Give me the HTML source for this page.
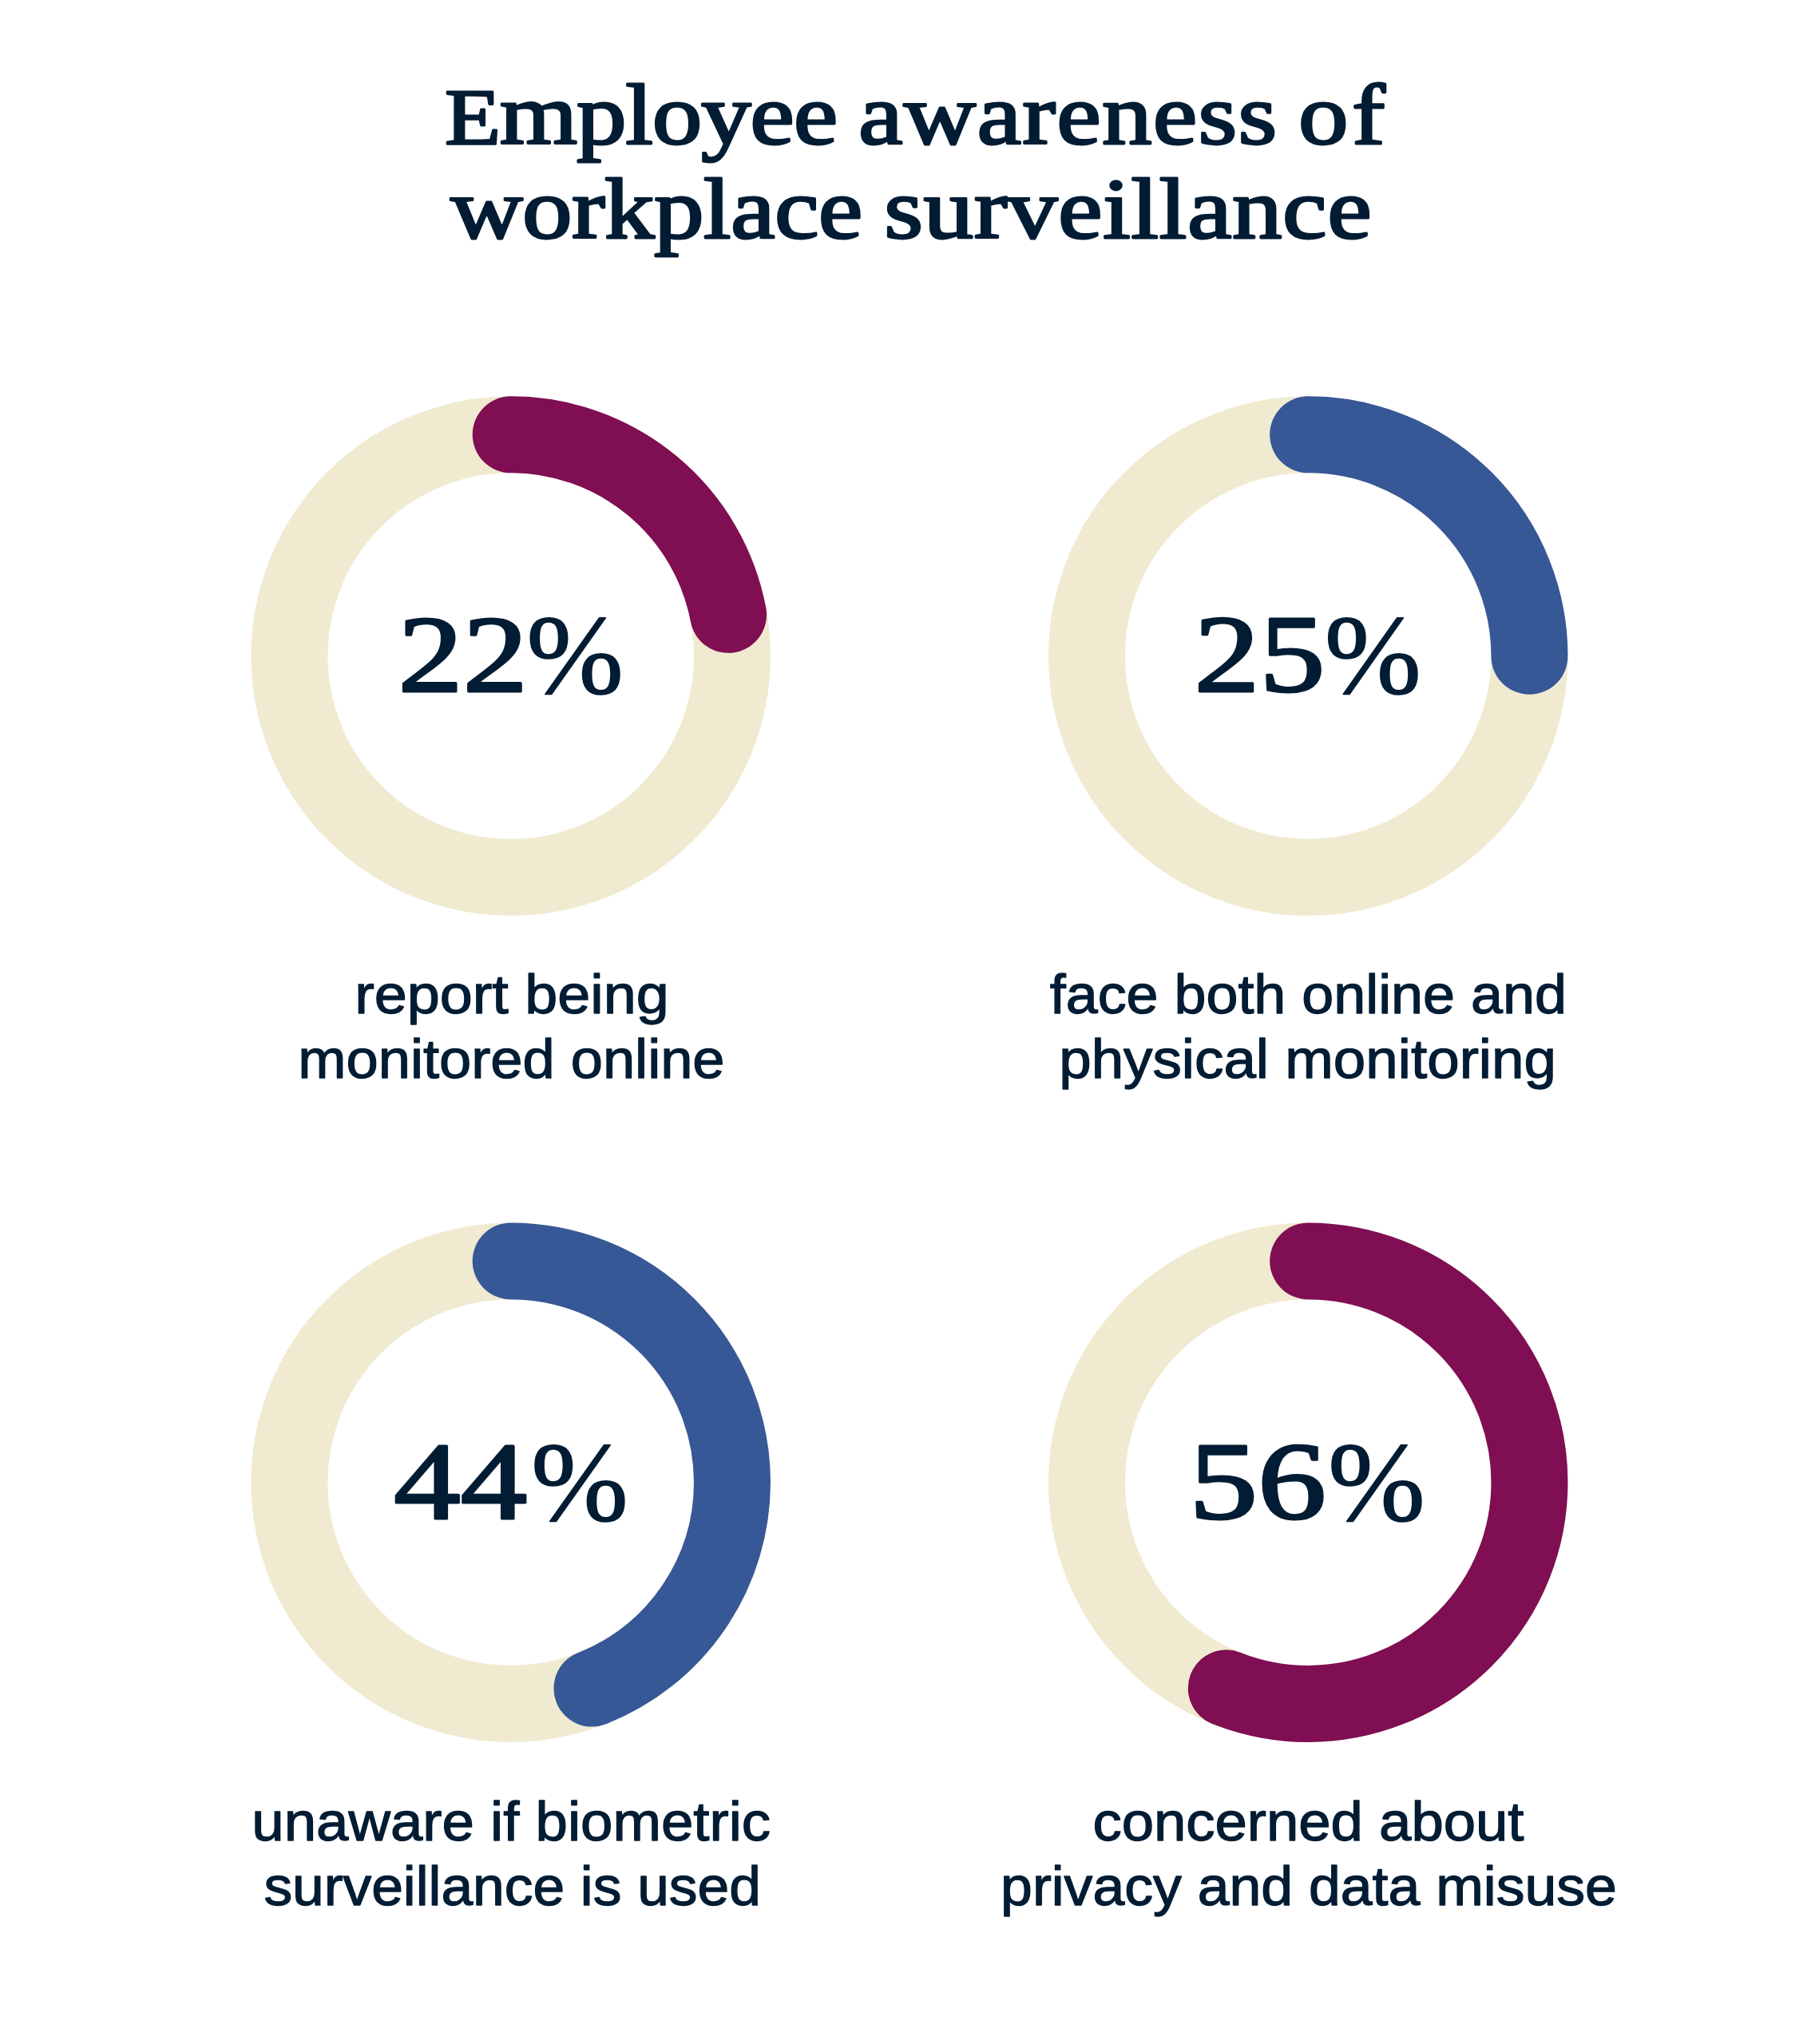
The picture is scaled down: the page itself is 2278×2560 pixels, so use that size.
<!DOCTYPE html>
<html lang="en">
<head>
<meta charset="utf-8">
<title>Employee awareness of workplace surveillance</title>
<style>
  html, body { margin: 0; padding: 0; background: #ffffff; }
  body { width: 2278px; height: 2560px; position: relative; }
  svg { display: block; position: absolute; left: 0; top: 0; }
  text { fill: #011c33; stroke: #011c33; stroke-linejoin: round; text-anchor: middle; }
  .title { font-family: "Liberation Serif", serif; font-weight: 400; font-size: 108px; stroke-width: 2.8px; }
  .num { font-family: "Liberation Serif", serif; font-weight: 400; font-size: 137.5px; stroke-width: 3px; }
  .pct { font-family: "Liberation Serif", serif; font-weight: 400; font-size: 141px; stroke-width: 1.5px; }
  .lbl { font-family: "Liberation Sans", sans-serif; font-weight: 400; font-size: 68.5px; stroke-width: 1.3px; }
  .track { fill: none; stroke: #f0ead0; stroke-width: 96; }
  .arc { fill: none; stroke-width: 96; stroke-linecap: round; }
  .purple { stroke: #7f0e53; }
  .blue { stroke: #375896; }
</style>
</head>
<body>
<svg width="2278" height="2560" viewBox="0 0 2278 2560" role="img" aria-label="Employee awareness of workplace surveillance">
  <!-- Heading -->
  <g class="heading">
    <text class="title" transform="translate(1148.35 180.00) scale(1.1592 1)"><tspan x="-284.88" letter-spacing="-1.1"><tspan font-size="99">E</tspan>mployee</tspan> <tspan x="176.88" letter-spacing="1.05">awareness</tspan> <tspan x="460.94" letter-spacing="4">of</tspan></text>
    <text class="title" transform="translate(1138.95 298.00) scale(1.1603 1)"><tspan x="-259.71" letter-spacing="-0.6">workplace</tspan> <tspan x="236.01" letter-spacing="0.4">surveillance</tspan></text>
  </g>

  <!-- Stat 1: 22% -->
  <g class="stat">
    <g transform="translate(639.7 821.6)">
      <circle class="track" r="277.25"/>
      <circle class="arc purple" r="277.25" transform="rotate(-90)" stroke-dasharray="383.24 1742.01"/>
    </g>
    <g class="value" aria-label="22%">
      <text class="num" transform="translate(579.66 866.10) scale(1.1814 1)">22</text><text class="pct" transform="translate(720.12 868.00) scale(1.0371 1)">%</text>
    </g>
    <g class="caption">
      <text class="lbl" transform="translate(640.96 1268.60) scale(1.0766 1)">report being</text>
      <text class="lbl" transform="translate(640.46 1350.10) scale(1.0550 1)">monitored online</text>
    </g>
  </g>

  <!-- Stat 2: 25% -->
  <g class="stat">
    <g transform="translate(1638.2 821.6)">
      <circle class="track" r="277.25"/>
      <circle class="arc blue" r="277.25" transform="rotate(-90)" stroke-dasharray="435.50 1742.01"/>
    </g>
    <g class="value" aria-label="25%">
      <text class="num" transform="translate(1577.52 866.10) scale(1.1927 1)">25</text><text class="pct" transform="translate(1719.39 868.00) scale(1.0317 1)">%</text>
    </g>
    <g class="caption">
      <text class="lbl" transform="translate(1638.28 1268.60) scale(1.0490 1)">face both online and</text>
      <text class="lbl" transform="translate(1637.56 1350.10) scale(1.0624 1)">physical monitoring</text>
    </g>
  </g>

  <!-- Stat 3: 44% -->
  <g class="stat">
    <g transform="translate(639.7 1856.7)">
      <circle class="track" r="277.25"/>
      <circle class="arc blue" r="277.25" transform="rotate(-90)" stroke-dasharray="766.49 1742.01"/>
    </g>
    <g class="value" aria-label="44%">
      <text class="num" transform="translate(576.79 1901.60) scale(1.2138 1)">44</text><text class="pct" transform="translate(726.05 1903.50) scale(1.0377 1)">%</text>
    </g>
    <g class="caption">
      <text class="lbl" transform="translate(640.23 2305.20) scale(1.0602 1)">unaware if biometric</text>
      <text class="lbl" transform="translate(641.65 2386.00) scale(1.0414 1)">surveillance is used</text>
    </g>
  </g>

  <!-- Stat 4: 56% -->
  <g class="stat">
    <g transform="translate(1638.2 1856.7)">
      <circle class="track" r="277.25"/>
      <circle class="arc purple" r="277.25" transform="rotate(-90)" stroke-dasharray="975.53 1742.01"/>
    </g>
    <g class="value" aria-label="56%">
      <text class="num" transform="translate(1575.08 1901.60) scale(1.2503 1)">56</text><text class="pct" transform="translate(1724.05 1903.50) scale(1.0377 1)">%</text>
    </g>
    <g class="caption">
      <text class="lbl" transform="translate(1638.44 2305.20) scale(1.0583 1)">concerned about</text>
      <text class="lbl" transform="translate(1638.98 2386.00) scale(1.0451 1)">privacy and data misuse</text>
    </g>
  </g>
</svg>
</body>
</html>
